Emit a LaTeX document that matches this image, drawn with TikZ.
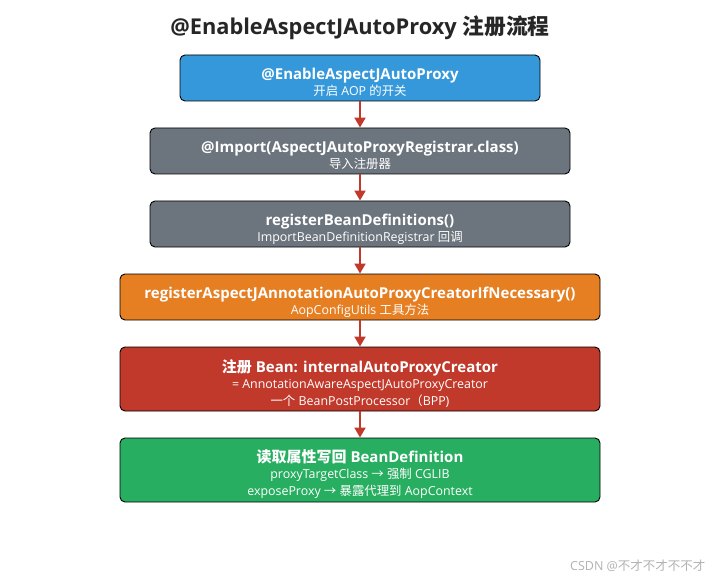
\documentclass[tikz,border=0pt]{standalone}
\usepackage{fontspec}
\setmainfont{Open Sans}
\newfontfamily\cjk{Noto Sans CJK SC}
\newcommand{\zh}[1]{{\cjk #1}}
\usetikzlibrary{arrows.meta}
\definecolor{cblue}{HTML}{3598DB}
\definecolor{cgray}{HTML}{6C757D}
\definecolor{corange}{HTML}{E67E22}
\definecolor{cred}{HTML}{C0392B}
\definecolor{cgreen}{HTML}{27AE60}
\tikzset{
  box/.style={draw=black, line width=0.9pt, rounded corners=5pt, text=white, align=center, inner sep=0pt, font=\fontsize{15}{18}\selectfont},
  flow/.style={draw=cred, line width=2pt, -{Triangle[width=11pt,length=10pt]}},
}
\newcommand{\subf}{\fontsize{12.4}{14}\selectfont}
\newcommand{\tstrut}{\rule{0pt}{21pt}}
\begin{document}
\begin{tikzpicture}[x=1pt,y=-1pt]
\useasboundingbox (0,0) rectangle (720,580);
\node[font=\fontsize{21.8}{24}\selectfont\bfseries, text=black!85] (title) at (360,28) {@EnableAspectJAutoProxy \zh{\bfseries 注册流程}};
\node[box, fill=cblue, minimum width=360pt, minimum height=46pt] (b1) at (360,78)
  {\tstrut\textbf{@EnableAspectJAutoProxy}\\[-2pt]{\subf\zh{开启} AOP \zh{的开关}}};
\node[box, fill=cgray, minimum width=420pt, minimum height=46pt] (b2) at (360,151)
  {\tstrut\textbf{@Import(AspectJAutoProxyRegistrar.class)}\\[-2pt]{\subf\zh{导入注册器}}};
\node[box, fill=cgray, minimum width=420pt, minimum height=46pt] (b3) at (360,224)
  {\tstrut\textbf{registerBeanDefinitions()}\\[-2pt]{\subf ImportBeanDefinitionRegistrar \zh{回调}}};
\node[box, fill=corange, minimum width=480pt, minimum height=46pt] (b4) at (360,297)
  {\tstrut\textbf{registerAspectJAnnotationAutoProxyCreatorIfNecessary()}\\[-2pt]{\subf AopConfigUtils \zh{工具方法}}};
\node[box, fill=cred, minimum width=480pt, minimum height=64pt] (b5) at (360,379)
  {\tstrut\textbf{\zh{\bfseries 注册} Bean: internalAutoProxyCreator}\\[-2pt]{\subf = AnnotationAwareAspectJAutoProxyCreator}\\[-1pt]{\subf\zh{一个} BeanPostProcessor\zh{（}BPP)}};
\node[box, fill=cgreen, minimum width=480pt, minimum height=64pt] (b6) at (360,470)
  {\tstrut\textbf{\zh{\bfseries 读取属性写回} BeanDefinition}\\[-2pt]{\subf proxyTargetClass \zh{→} \zh{强制} CGLIB}\\[-1pt]{\subf exposeProxy \zh{→} \zh{暴露代理到} AopContext}};
\draw[flow] (b1) -- (b2);
\draw[flow] (b2) -- (b3);
\draw[flow] (b3) -- (b4);
\draw[flow] (b4) -- (b5);
\draw[flow] (b5) -- (b6);
\node[anchor=east, text=black!30, font=\fontsize{12.5}{14}\selectfont] (wm) at (709,566) {CSDN @\zh{不才不才不不才}};
\end{tikzpicture}
\end{document}
